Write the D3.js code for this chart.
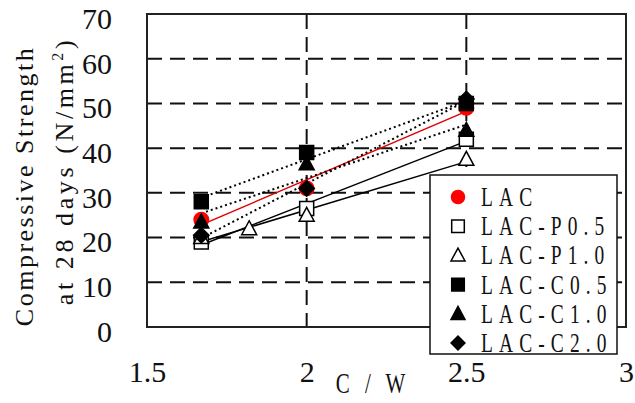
<!DOCTYPE html>
<html>
<head>
<meta charset="utf-8">
<script src="https://cdn.jsdelivr.net/npm/d3@7"></script>
<style>
  html, body { margin: 0; padding: 0; background: #fff; }
  svg { display: block; }
  svg text { font-family: "Liberation Serif", "Times New Roman", Times, "DejaVu Serif", serif; fill: #111; }
</style>
</head>
<body>
<svg id="chart" width="635" height="403"></svg>
<script>
// Compressive strength at 28 days vs cement/water ratio
const xTicks = [1.5, 2, 2.5, 3];
const yTicks = [0, 10, 20, 30, 40, 50, 60, 70];
const seriesNames = ["LAC", "LAC-P0.5", "LAC-P1.0", "LAC-C0.5", "LAC-C1.0", "LAC-C2.0"];

const cwLAC = [1.67, 2.0, 2.5];
const fcLAC = [24, 31, 49];
const cwP05 = [1.67, 2.0, 2.5];
const fcP05 = [19, 26.5, 42];
const cwP10 = [1.67, 1.82, 2.0, 2.5];
const fcP10 = [20, 22, 25, 37.5];
const cwC05 = [1.67, 2.0, 2.5];
const fcC05 = [28, 39, 50];
const cwC10 = [1.67, 2.0, 2.5];
const fcC10 = [23.5, 36.5, 44];
const cwC20 = [1.67, 2.0, 2.5];
const fcC20 = [20.5, 31, 51];

const FONT = "'Liberation Serif', 'Times New Roman', Times, 'DejaVu Serif', serif";

const series = [
  { name: seriesNames[0], cw: cwLAC, fc: fcLAC, shape: "circle",   fill: "#ff0000", stroke: "#ff0000", line: "#e00000", dash: null },
  { name: seriesNames[1], cw: cwP05, fc: fcP05, shape: "square",   fill: "#fff",    stroke: "#000",    line: "#000",    dash: null },
  { name: seriesNames[2], cw: cwP10, fc: fcP10, shape: "triangle", fill: "#fff",    stroke: "#000",    line: "#000",    dash: null },
  { name: seriesNames[3], cw: cwC05, fc: fcC05, shape: "square",   fill: "#000",    stroke: "#000",    line: "#000",    dash: "2,3" },
  { name: seriesNames[4], cw: cwC10, fc: fcC10, shape: "triangle", fill: "#000",    stroke: "#000",    line: "#000",    dash: "2,3" },
  { name: seriesNames[5], cw: cwC20, fc: fcC20, shape: "diamond",  fill: "#000",    stroke: "#000",    line: "#000",    dash: "2,3" }
];

const svg = d3.select("#chart");
const x = d3.scaleLinear().domain([1.5, 3]).range([147, 626]);
const y = d3.scaleLinear().domain([0, 70]).range([327, 14]);

// dashed grid
const grid = svg.append("g");
grid.selectAll("line.h").data(yTicks.slice(1, -1)).join("line")
  .attr("x1", x(1.5)).attr("x2", x(3))
  .attr("y1", d => y(d)).attr("y2", d => y(d))
  .attr("stroke", "#111").attr("stroke-width", 2).attr("stroke-dasharray", "15,8");
grid.selectAll("line.v").data(xTicks.slice(1, -1)).join("line")
  .attr("x1", d => x(d)).attr("x2", d => x(d))
  .attr("y1", y(70)).attr("y2", y(0))
  .attr("stroke", "#111").attr("stroke-width", 2).attr("stroke-dasharray", "15,8");

// plot frame
svg.append("rect")
  .attr("x", x(1.5)).attr("y", y(70))
  .attr("width", x(3) - x(1.5)).attr("height", y(0) - y(70))
  .attr("fill", "none").attr("stroke", "#222").attr("stroke-width", 2);

// axes (labels only)
const yAxis = svg.append("g").attr("transform", `translate(${x(1.5)},0)`)
  .call(d3.axisLeft(y).tickValues(yTicks).tickSize(0).tickPadding(35))
  .attr("font-family", null).attr("font-size", null);
yAxis.select(".domain").remove();
yAxis.selectAll("text").attr("dy", "0.48em")
  .style("font-family", FONT).style("font-size", "30px").attr("fill", "#111");

const xAxis = svg.append("g").attr("transform", `translate(0,${y(0)})`)
  .call(d3.axisBottom(x).tickValues(xTicks).tickFormat(d3.format("")).tickSize(0).tickPadding(34))
  .attr("font-family", null).attr("font-size", null);
xAxis.select(".domain").remove();
xAxis.selectAll("text")
  .style("font-family", FONT).style("font-size", "30px").attr("fill", "#111");

// least-squares trend line for each series
function fit(xs, ys) {
  const mx = d3.mean(xs), my = d3.mean(ys);
  const sxy = d3.sum(xs, (v, i) => (v - mx) * (ys[i] - my));
  const sxx = d3.sum(xs, v => (v - mx) * (v - mx));
  const b = sxy / sxx;
  return v => my + b * (v - mx);
}
const trends = svg.append("g");
series.forEach(s => {
  const f = fit(s.cw, s.fc);
  const [x0, x1] = d3.extent(s.cw);
  trends.append("line")
    .attr("x1", x(x0)).attr("y1", y(f(x0)))
    .attr("x2", x(x1)).attr("y2", y(f(x1)))
    .attr("stroke", s.line)
    .attr("stroke-width", s.dash ? 2 : 1.5)
    .attr("stroke-dasharray", s.dash);
});

// marker shapes; r is the half-width of the mark
function shapePath(shape, r) {
  if (shape === "circle") return d3.symbol(d3.symbolCircle, Math.PI * r * r)();
  if (shape === "square") return `M${-r},${-r}H${r}V${r}H${-r}Z`;
  if (shape === "triangle") return `M0,${-r * 1.05}L${r},${r * 0.8}H${-r}Z`;
  return `M0,${-r * 1.1}L${r * 1.1},0L0,${r * 1.1}L${-r * 1.1},0Z`;
}
const markR = { circle: 7.2, square: 7, triangle: 7.5, diamond: 7 };

const marks = svg.append("g");
series.forEach(s => {
  marks.append("g").selectAll("path").data(s.cw.map((c, i) => [c, s.fc[i]])).join("path")
    .attr("d", shapePath(s.shape, markR[s.shape]))
    .attr("transform", d => `translate(${x(d[0])},${y(d[1])})`)
    .attr("fill", s.fill).attr("stroke", s.stroke).attr("stroke-width", 1.5);
});

// legend
const legend = svg.append("g");
legend.append("rect")
  .attr("x", 430).attr("y", 175).attr("width", 187).attr("height", 179)
  .attr("fill", "#fff").attr("stroke", "#111").attr("stroke-width", 1.5);
const legendR = { circle: 6.5, square: 6.3, triangle: 7, diamond: 6.3 };
series.forEach((s, i) => {
  const cy = 197 + i * 29.2;
  legend.append("path")
    .attr("d", shapePath(s.shape, legendR[s.shape]))
    .attr("transform", `translate(458,${cy})`)
    .attr("fill", s.fill).attr("stroke", s.stroke).attr("stroke-width", 1.5);
  legend.append("text")
    .attr("transform", `translate(481,${cy + 9}) scale(0.72,1)`)
    .style("font-family", FONT)
    .style("font-size", "27px").style("letter-spacing", "8.5px")
    .text(s.name);
});

// axis titles
svg.append("text")
  .attr("transform", `translate(373,393) scale(0.7,1)`)
  .attr("text-anchor", "middle")
  .style("font-family", FONT)
  .style("font-size", "30px").style("letter-spacing", "7px")
  .text("C / W");

svg.append("text")
  .attr("transform", "translate(33,186) rotate(-90)")
  .attr("text-anchor", "middle")
  .style("font-family", FONT)
  .style("font-size", "26px").style("letter-spacing", "2.5px")
  .text("Compressive Strength");

const t2 = svg.append("text")
  .attr("transform", "translate(73,171) rotate(-90)")
  .attr("text-anchor", "middle")
  .style("font-family", FONT)
  .style("font-size", "26px").style("letter-spacing", "3.6px");
t2.append("tspan").text("at 28 days (N/mm");
t2.append("tspan").attr("dy", "-10").style("font-size", "16px").text("2");
t2.append("tspan").attr("dy", "10").text(")");
</script>
</body>
</html>
